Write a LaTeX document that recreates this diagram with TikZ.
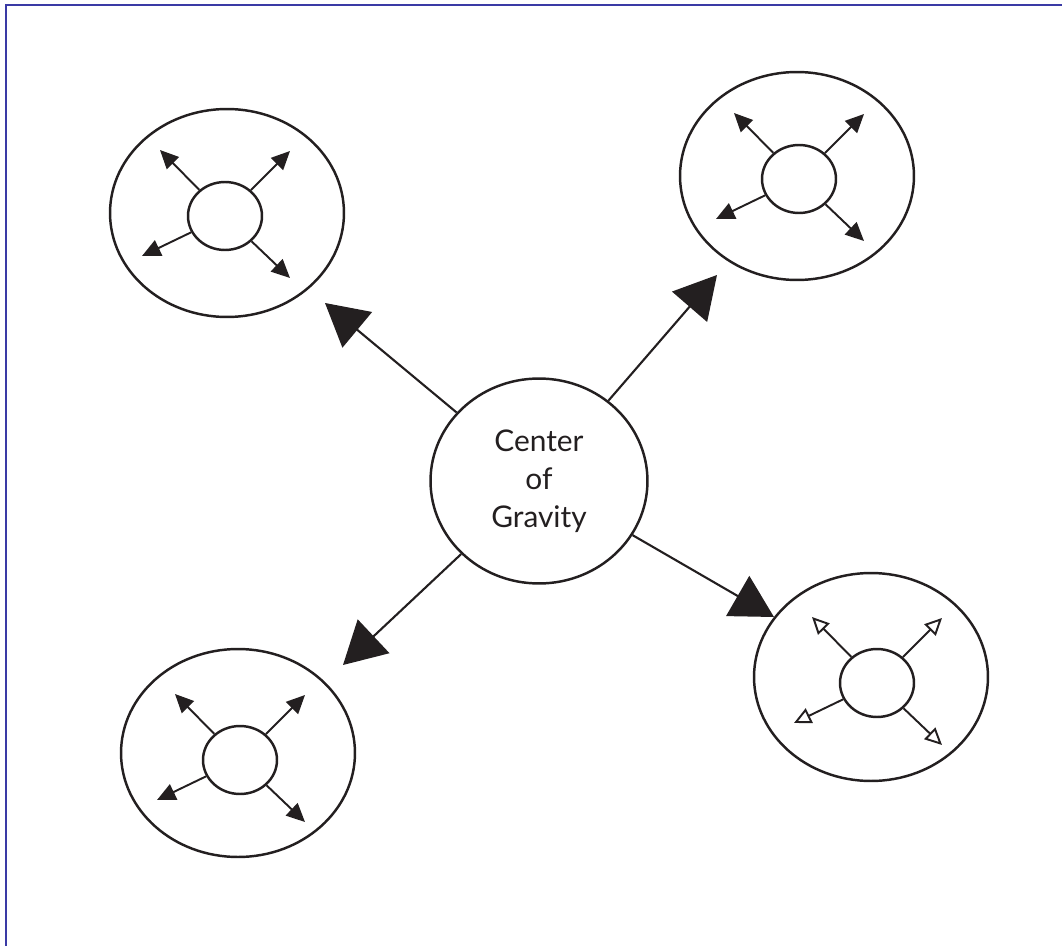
\documentclass[tikz,border=0pt]{standalone}
\usepackage{fontspec}
\newfontfamily\cogfont{Lato}
\usetikzlibrary{arrows.meta, positioning, shapes.geometric}
\definecolor{INK}{RGB}{35,31,32}
\definecolor{FR}{RGB}{58,58,165}

\begin{document}
\begin{tikzpicture}[
  x=0.02cm, y=-0.02cm,
  outer/.style={draw=INK, ellipse, line width=1.4pt, inner sep=0pt,
                minimum width=4.68cm, minimum height=4.16cm},
  inner/.style={draw=INK, ellipse, line width=1.4pt, inner sep=0pt,
                minimum width=1.48cm, minimum height=1.36cm},
  core/.style={draw=INK, ellipse, line width=1.4pt, inner sep=0pt,
               minimum width=4.34cm, minimum height=4.1cm, align=center,
               font=\cogfont\fontsize{17}{21.5}\selectfont, text=INK},
  spoke/.style={draw=INK, line width=1.1pt,
                -{Triangle[length=0.37cm, width=0.34cm]}},
  ospoke/.style={draw=INK, line width=1.1pt,
                 -{Triangle[open, length=0.34cm, width=0.32cm]}},
  push/.style={draw=INK, line width=1.2pt,
               -{Triangle[length=0.84cm, width=0.92cm]}}
]
\useasboundingbox (0,0) rectangle (1062,946);
% Frame (only top and left edges show)
\draw[FR, line width=1.2pt] (6,946) -- (6,5) -- (1062,5);

% Satellites: outer ring and inner circle
\foreach \name/\ox/\oy/\ix/\iy in {
    tl/227/213/225/216,
    tr/797/176/799/179,
    bl/238/753/240/760,
    br/871/677/877/683}{
  \node[outer] (\name-out) at (\ox,\oy) {};
  \node[inner] (\name-in) at (\ix,\iy) {};
  % tips of the four small arrows
  \foreach \k/\dx/\dy in {1/-65/-66, 2/65/-65, 3/-83/40, 4/65/62}{
    \coordinate (\name-\k) at ([shift={(\dx,\dy)}]\name-in.center);
  }
}

% Small arrows (open heads on the lower right one)
\foreach \name/\sty in {tl/spoke, tr/spoke, bl/spoke, br/ospoke}{
  \foreach \k in {1,...,4}{
    \draw[\sty] (\name-in) -- (\name-\k);
  }
}

% Centre of gravity
\node[core] (cog) at (539,481) {Center\\of\\Gravity};

% Big arrows out of the centre
\coordinate (nw) at (325,303);
\coordinate (ne) at (717,275);
\coordinate (sw) at (343,665);
\coordinate (se) at (774,617);
\foreach \t in {nw, ne, sw, se}{
  \draw[push] (cog) -- (\t);
}
\end{tikzpicture}
\end{document}
